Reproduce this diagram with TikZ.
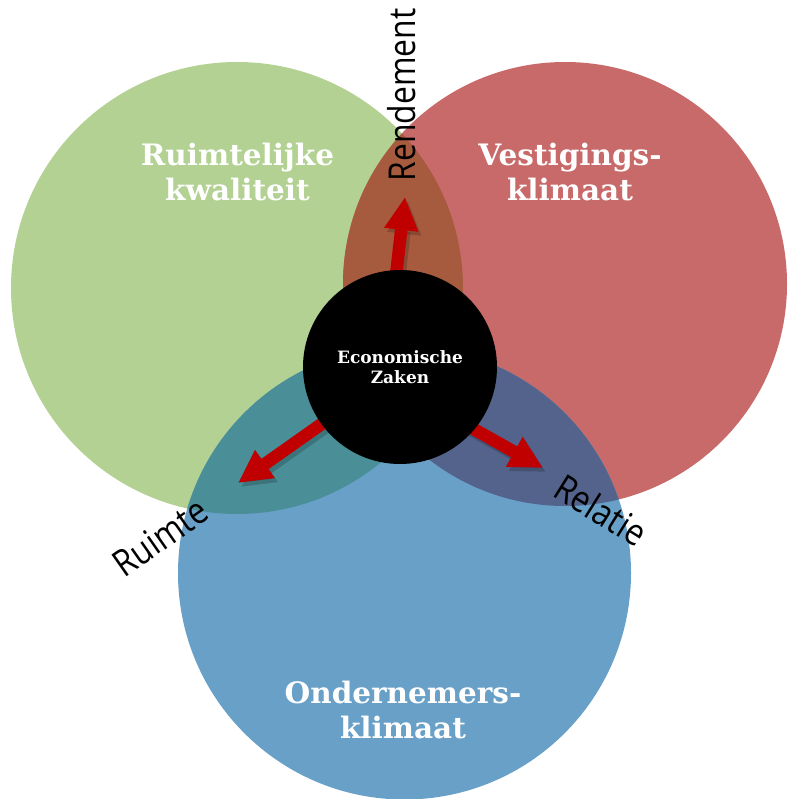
\documentclass[tikz,border=0pt]{standalone}
\usepackage{fontspec}
\newfontfamily\titlefont{DejaVu Serif}
\newfontfamily\labelfont{Open Sans}
\usetikzlibrary{arrows.meta}
\pgfdeclarelayer{bg}
\pgfdeclarelayer{mid}
\pgfsetlayers{bg,mid,main}
\definecolor{cgreen}{RGB}{178,209,146}
\definecolor{cred}{RGB}{201,106,106}
\definecolor{cblue}{RGB}{104,160,200}
\definecolor{cbrown}{RGB}{167,91,62}
\definecolor{cteal}{RGB}{74,142,152}
\definecolor{cpurple}{RGB}{83,99,139}
\definecolor{carrow}{RGB}{192,0,0}
\tikzset{
  venn/.style={circle, inner sep=0pt, minimum size=#1},
  title/.style={font=\titlefont\bfseries\fontsize{29.5}{35}\selectfont, text=white, align=center, inner sep=0pt},
  core/.style={circle, fill=black, minimum size=194pt, inner sep=0pt, font=\titlefont\bfseries\fontsize{17}{20}\selectfont, text=white, align=center},
  axislabel/.style={font=\labelfont\fontsize{37}{40}\selectfont, inner sep=0pt, transform shape},
  redarrow/.style={draw=carrow, line width=12.5pt, -{Triangle[width=32pt,length=33pt]}, shorten <=-8pt},
  arrowshadow/.style={redarrow, draw=black, opacity=0.18},
}
\begin{document}
\begin{tikzpicture}[x=1pt,y=-1pt]
\useasboundingbox (0,0) rectangle (787,799);
\begin{pgfonlayer}{bg}
  \node[venn=452pt, fill=cgreen] (green) at (237,288) {};
  \node[venn=444pt, fill=cred] (red) at (565,284) {};
  \begin{scope}
    \clip (237,288) circle[radius=226pt];
    \fill[cbrown] (565,284) circle[radius=222pt];
  \end{scope}
  \node[venn=453pt, fill=cblue] (blue) at (404.5,573) {};
  \begin{scope}
    \clip (237,288) circle[radius=226pt];
    \fill[cteal] (404.5,573) circle[radius=226.5pt];
  \end{scope}
  \begin{scope}
    \clip (565,284) circle[radius=222pt];
    \fill[cpurple] (404.5,573) circle[radius=226.5pt];
  \end{scope}
\end{pgfonlayer}

% titles
\node[title] (rk) at (237.5,172) {Ruimtelijke\\kwaliteit};
\node[title] (vk) at (570,172) {Vestigings-\\klimaat};
\node[title] (ok) at (403,709.5) {Ondernemers-\\klimaat};

% centre
\node[core] (ez) at (400,367) {Economische\\Zaken};

% arrows
\coordinate (upTip) at (405,197);
\coordinate (leftTip) at (238,483);
\coordinate (rightTip) at (543,468);
\begin{pgfonlayer}{mid}
  \draw[arrowshadow, transform canvas={shift={(3pt,-4pt)}}] (ez.92) -- (upTip);
  \draw[arrowshadow, transform canvas={shift={(3pt,-4pt)}}] (ez.216) -- (leftTip);
  \draw[arrowshadow, transform canvas={shift={(3pt,-4pt)}}] (ez.-40) -- (rightTip);
  \draw[redarrow] (ez.92) -- (upTip);
  \draw[redarrow] (ez.216) -- (leftTip);
  \draw[redarrow] (ez.-40) -- (rightTip);
\end{pgfonlayer}

% axis labels
\node[axislabel, rotate=90, xscale=0.86] (rend) at (402,95) {Rendement};
\node[axislabel, rotate=35, xscale=0.86] (ruim) at (160,537) {Ruimte};
\node[axislabel, rotate=-32, xscale=0.86] (rel) at (601,510) {Relatie};
\end{tikzpicture}
\end{document}
